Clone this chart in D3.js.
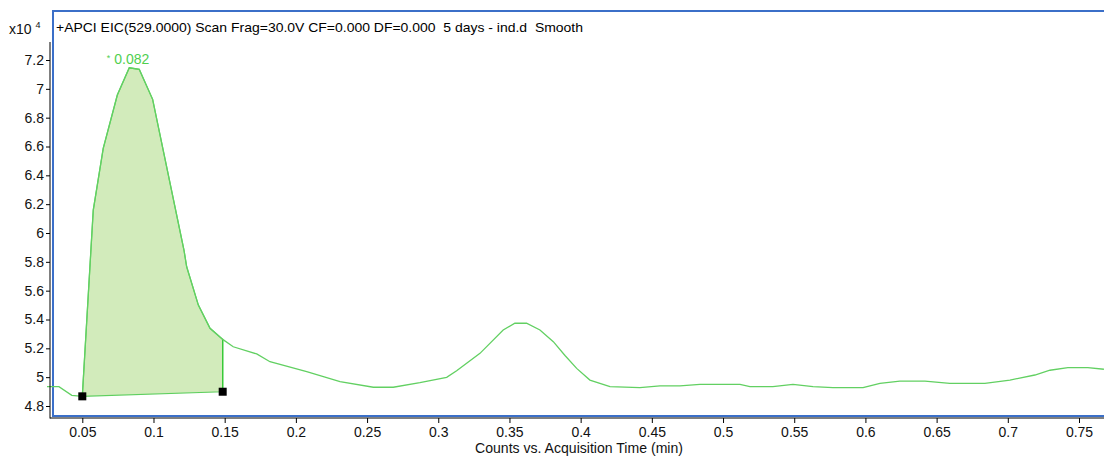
<!DOCTYPE html>
<html><head><meta charset="utf-8">
<script src="https://cdn.jsdelivr.net/npm/d3@7"></script>
<style>
html,body{margin:0;padding:0;background:#fff;}
svg{display:block;font-family:"Liberation Sans",Arial,sans-serif;}
</style></head>
<body><svg id="c" width="1104" height="460"></svg>
<script>
const times = [0.0252,0.0336,0.0426,0.0500,0.0577,0.0647,0.0746,0.0830,0.0900,0.0994,0.1214,0.1233,0.1315,0.1397,0.1486,0.1560,0.1725,0.1818,0.2076,0.2310,0.2544,0.2684,0.2871,0.3059,0.3129,0.3293,0.3456,0.3538,0.3620,0.3714,0.3808,0.3890,0.3972,0.4065,0.4206,0.4416,0.4557,0.4697,0.4838,0.5119,0.5189,0.5350,0.5491,0.5632,0.5772,0.5983,0.6102,0.6242,0.6418,0.6593,0.6839,0.7015,0.7190,0.7296,0.7422,0.7562,0.7675];
const counts = [4.934,4.934,4.874,4.867,6.159,6.587,6.957,7.146,7.135,6.927,5.882,5.766,5.500,5.339,5.262,5.211,5.161,5.107,5.038,4.969,4.930,4.930,4.962,4.999,5.045,5.165,5.327,5.374,5.374,5.327,5.246,5.150,5.061,4.980,4.934,4.927,4.939,4.939,4.950,4.950,4.934,4.934,4.950,4.934,4.927,4.927,4.957,4.973,4.973,4.957,4.957,4.980,5.015,5.048,5.066,5.066,5.055];
const integStart = [0.0500, 4.867];
const integEnd = [0.1486, 4.899];
const peakLabel = "0.082";
const peakTime = 0.082;
const peakValue = 7.146;
const xTicks = [0.05,0.1,0.15,0.2,0.25,0.3,0.35,0.4,0.45,0.5,0.55,0.6,0.65,0.7,0.75];
const xTickLabels = ["0.05","0.1","0.15","0.2","0.25","0.3","0.35","0.4","0.45","0.5","0.55","0.6","0.65","0.7","0.75"];
const yTicks = [4.8,5.0,5.2,5.4,5.6,5.8,6.0,6.2,6.4,6.6,6.8,7.0,7.2];
const yTickLabels = ["4.8","5","5.2","5.4","5.6","5.8","6","6.2","6.4","6.6","6.8","7","7.2"];
const titleText = "+APCI EIC(529.0000) Scan Frag=30.0V CF=0.000 DF=0.000  5 days - ind.d  Smooth";
const xLabel = "Counts vs. Acquisition Time (min)";

const svg = d3.select("#c");
const x = d3.scaleLinear().domain([0.05,0.75]).range([82.3,1079]);
const y = d3.scaleLinear().domain([4.8,7.2]).range([406,60]);
const data = times.map((t,i)=>({t, v:counts[i]}));

// frame
svg.append("rect").attr("x",53).attr("y",11).attr("width",1100).attr("height",405)
  .attr("fill","none").attr("stroke","#3b6fc8").attr("stroke-width",2);

// fill area
const inside = data.filter(d=>d.t>=integStart[0] && d.t<=integEnd[0]);
const poly = inside.map(d=>[x(d.t),y(d.v)]);
poly.push([x(integEnd[0]),y(integEnd[1])]);
poly.push([x(integStart[0]),y(integStart[1])]);
svg.append("path").attr("d",d3.line()(poly)+"Z")
  .attr("fill","#d2ebbb").attr("stroke","#5fcf5f").attr("stroke-width",1.2);
// right vertical boundary
const endPt = inside[inside.length-1];
svg.append("line").attr("x1",x(integEnd[0])).attr("x2",x(integEnd[0]))
  .attr("y1",y(endPt.v)).attr("y2",y(integEnd[1]))
  .attr("stroke","#36c936").attr("stroke-width",1.3);

// curve
svg.append("path").datum(data)
  .attr("d",d3.line().x(d=>x(d.t)).y(d=>y(d.v)))
  .attr("fill","none").attr("stroke","#62d062").attr("stroke-width",1.3);

// markers
[integStart,integEnd].forEach(p=>{
  svg.append("rect").attr("x",x(p[0])-4).attr("y",y(p[1])-4).attr("width",8).attr("height",8).attr("fill","#000");
});

// peak label
svg.append("text").attr("x",x(peakTime)-21).attr("y",y(peakValue)-7).attr("font-size",9).attr("fill","#4fcf4f").text("*");
svg.append("text").attr("x",x(peakTime)+4).attr("y",y(peakValue)-4).attr("font-size",14).attr("text-anchor","middle").attr("fill","#4fcf4f").text(peakLabel);

// axes
const xAxis = svg.append("g").attr("transform","translate(0,418)")
  .call(d3.axisBottom(x).tickValues(xTicks).tickFormat((d,i)=>xTickLabels[i]).tickSize(5).tickSizeOuter(0));
xAxis.select(".domain").remove();
xAxis.selectAll("text").attr("font-size",14).attr("font-family","Liberation Sans, Arial, sans-serif").attr("fill","#111").attr("dy","0.85em").attr("y",7);
xAxis.selectAll("line").attr("stroke","#000");
svg.append("line").attr("x1",50).attr("x2",1104).attr("y1",418).attr("y2",418).attr("stroke","#000").attr("stroke-width",1);

const yAxis = svg.append("g").attr("transform","translate(50,0)")
  .call(d3.axisLeft(y).tickValues(yTicks).tickFormat((d,i)=>yTickLabels[i]).tickSize(4).tickSizeOuter(0));
yAxis.select(".domain").remove();
yAxis.selectAll("text").attr("font-size",14).attr("font-family","Liberation Sans, Arial, sans-serif").attr("fill","#111").attr("x",-6);
yAxis.selectAll("line").attr("stroke","#000");
svg.append("line").attr("x1",50).attr("x2",50).attr("y1",42).attr("y2",418.5).attr("stroke","#000").attr("stroke-width",1);

// title
svg.append("text").attr("x",56).attr("y",32).attr("font-size",13).attr("fill","#000")
  .style("white-space","pre").attr("textLength",527).attr("lengthAdjust","spacingAndGlyphs").text(titleText);
// multiplier
const m = svg.append("text").attr("x",9).attr("y",34).attr("font-size",14).attr("fill","#111");
m.append("tspan").text("x10");
m.append("tspan").attr("dx",4).attr("dy",-6).attr("font-size",9).text("4");
// x label
svg.append("text").attr("x",579).attr("y",453).attr("font-size",14).attr("text-anchor","middle").attr("fill","#111")
  .attr("textLength",208).attr("lengthAdjust","spacingAndGlyphs").text(xLabel);
</script></body></html>
